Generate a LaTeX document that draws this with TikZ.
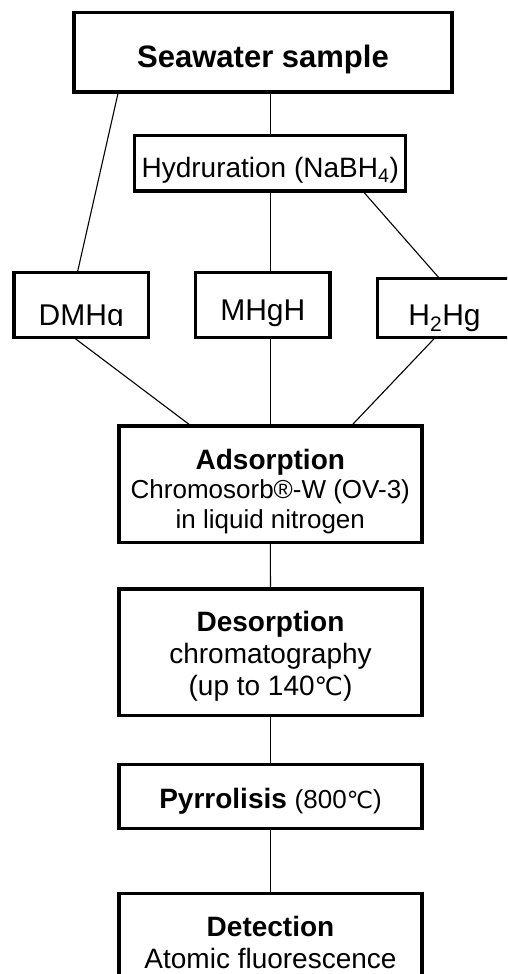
\documentclass[tikz,border=0pt]{standalone}
\usepackage{fontspec}
\setmainfont{Liberation Sans}
\newfontfamily\degfont[Scale=0.9]{DejaVu Sans}
\usepackage{tikz}

\newcommand{\dgC}{{\degfont ℃}}
% text lines of a box, first baseline raised by #1 from the box centre
\newcommand{\boxlines}[2]{\raisebox{#1}[0pt][0pt]{\begin{tabular}[t]{@{}c@{}}#2\end{tabular}}}

\tikzset{
  stage/.style={draw, line width=3.4pt, inner sep=0pt, outer sep=0pt, minimum width=303pt},
  species/.style={minimum width=134.3pt, minimum height=65pt, font={\fontsize{30}{36}\selectfont}},
  link/.style={line width=1.1pt},
}

\begin{document}
\begin{tikzpicture}[x=1pt,y=-1pt]
  \useasboundingbox (0,0) rectangle (507,974);
  \clip (0,0) rectangle (507,974);
  % sample and hydride step
  \node[stage, minimum width=378pt, minimum height=79.7pt, font={\fontsize{31}{36}\selectfont}] (sea) at (263,52.2)
    {\boxlines{-15.5pt}{\bfseries Seawater sample}};
  \node[stage, minimum width=271pt, minimum height=55.3pt, font={\fontsize{28}{32}\selectfont}] (hyd) at (270.2,163.3)
    {\boxlines{-14pt}{Hydruration (NaBH\textsubscript{4})}};
  % mercury species
  \node[stage, species] (dmhg) at (81.2,305.2) {};
  \node[stage, species] (mhgh) at (262.8,305.2) {\boxlines{-14.8pt}{MHgH}};
  \node[stage, species, minimum height=59.4pt] (h2hg) at (444.5,308) {\boxlines{-17pt}{H\textsubscript{2}Hg}};
  \begin{scope}
    \clip (dmhg.north west) rectangle ([yshift=12pt]dmhg.south east);
    \node[species, minimum width=0pt, minimum height=0pt] (dmhgtxt) at (dmhg.center) {\boxlines{-19.8pt}{DMHg}};
  \end{scope}
  % trapping, separation, detection
  \node[stage, minimum height=116.7pt, font={\fontsize{26}{29.5}\selectfont}] (ads) at (270.3,484.3)
    {\boxlines{15pt}{{\fontsize{28}{29.5}\selectfont\bfseries Adsorption}\\Chromosorb®-W (OV-3)\\in liquid nitrogen}};
  \node[stage, minimum height=126.7pt, font={\fontsize{28}{31.7}\selectfont}] (des) at (270.5,652.3)
    {\boxlines{20.6pt}{\bfseries Desorption\\chromatography\\(up to 140\dgC)}};
  \node[stage, minimum height=64pt, font={\fontsize{28}{32}\selectfont}] (pyr) at (270.5,796.3)
    {\boxlines{-12pt}{\textbf{Pyrrolisis} {\fontsize{26}{30}\selectfont(800\dgC)}}};
  \node[stage, minimum height=120pt, font={\fontsize{28}{32}\selectfont}] (det) at (270.5,953.3)
    {\boxlines{17.3pt}{\bfseries Detection\\Atomic fluorescence}};
  % connectors
  \draw[link] (hyd.north) -- (hyd.north |- sea.south);
  \draw[link] ([xshift=44.3pt]sea.south west) -- ([xshift=63.3pt]dmhg.north west);
  \draw[link] (hyd.south) -- (hyd.south |- mhgh.north);
  \draw[link] ([xshift=-43pt]hyd.south east) -- ([xshift=62pt]h2hg.north west);
  \draw[link] ([xshift=60pt]dmhg.south west) -- ([xshift=72.4pt]ads.north west);
  \draw[link] (ads.north) -- (ads.north |- mhgh.south);
  \draw[link] ([xshift=57.7pt]h2hg.south west) -- ([xshift=-70.6pt]ads.north east);
  \draw[link] (ads.south) -- (des.north);
  \draw[link] (des.south) -- (pyr.north);
  \draw[link] (pyr.south) -- (det.north);
\end{tikzpicture}
\end{document}
